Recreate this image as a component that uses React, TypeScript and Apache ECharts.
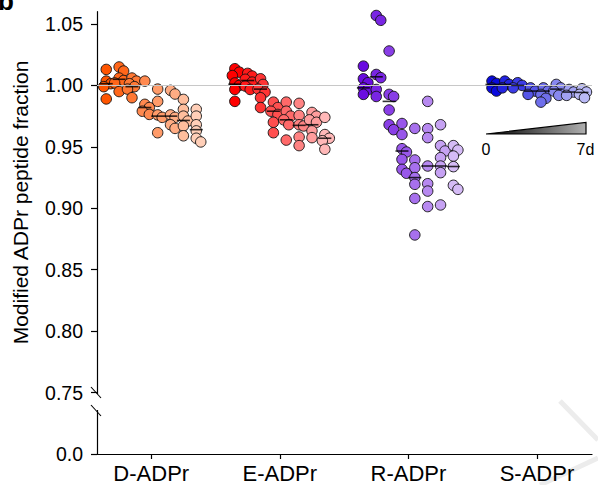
import React, { useEffect, useRef } from 'react';
import * as echarts from 'echarts';

// ---------- data ----------
const categories = ['D-ADPr', 'E-ADPr', 'R-ADPr', 'S-ADPr'];
const yTicks = [0.7, 0.75, 0.8, 0.85, 0.9, 0.95, 1.0, 1.05];
const yTickLabels = ['0.0', '0.75', '0.80', '0.85', '0.90', '0.95', '1.00', '1.05'];
const timeStartLabel = '0';
const timeEndLabel = '7d';
const yTitle = 'Modified ADPr peptide fraction';

// 8 time points (0 .. 7 d) per modification type
const dADPr = [
  [1.013, 1.0035, 1.0014, 0.999, 0.989],
  [1.015, 1.0117, 1.006, 1.004, 1.002, 0.995],
  [1.006, 1.0035, 1.0014, 0.999, 0.997, 0.99],
  [1.0035, 0.9846, 0.982, 0.979, 0.9764],
  [0.997, 0.987, 0.976, 0.974, 0.9615],
  [0.996, 0.993, 0.976, 0.974, 0.968, 0.965],
  [0.9886, 0.9805, 0.975, 0.971, 0.967, 0.959],
  [0.9805, 0.975, 0.968, 0.963, 0.957, 0.954],
];
const eADPr = [
  [1.0136, 1.0108, 1.008, 1.002, 1.0, 0.9967, 0.987],
  [1.0098, 1.0076, 1.005, 1.0027, 0.9995, 0.9967],
  [1.0054, 1.0008, 0.997, 0.9946, 0.99, 0.982],
  [0.9864, 0.982, 0.979, 0.9764, 0.97, 0.9615],
  [0.9864, 0.979, 0.975, 0.972, 0.968, 0.9555],
  [0.9854, 0.9756, 0.968, 0.967, 0.958, 0.951],
  [0.978, 0.975, 0.972, 0.97, 0.963, 0.9575],
  [0.974, 0.96, 0.957, 0.955, 0.948],
];
const rADPr = [
  [1.0157, 1.0054, 1.0022, 0.998, 0.9965, 0.9927],
  [1.0569, 1.053, 1.0089, 1.0063, 0.9967, 0.991],
  [1.028, 0.9927, 0.991, 0.98, 0.968, 0.964],
  [0.969, 0.96, 0.9485, 0.9458, 0.9398, 0.9317, 0.9285],
  [0.965, 0.9393, 0.933, 0.925, 0.9195, 0.908, 0.8783],
  [0.987, 0.9648, 0.9575, 0.9344, 0.92, 0.914, 0.9014],
  [0.968, 0.951, 0.9466, 0.9412, 0.9344, 0.929, 0.9027],
  [0.951, 0.9474, 0.9425, 0.9339, 0.9187, 0.9154],
];
const sADPr = [
  [1.0035, 1.0016, 0.998, 0.9954],
  [1.0035, 1.0008, 0.998],
  [1.0022, 1.0, 0.998],
  [0.998, 0.9954, 0.9927],
  [0.998, 0.9954, 0.9927, 0.9895, 0.9864],
  [1.0008, 0.998, 0.9954, 0.9919],
  [0.9967, 0.9946, 0.9919],
  [0.9973, 0.9946, 0.9927, 0.99],
];
const dMedians = [1.0014, 1.005, 0.999, 0.982, 0.975, 0.975, 0.9715, 0.964];
const eMedians = [1.001, 1.004, 0.997, 0.979, 0.972, 0.9675, 0.968, 0.957];
const rMedians = [0.998, 1.007, 0.987, 0.9466, 0.925, 0.9344, 0.9344, 0.934];
const sMedians = [1.0008, 1.0008, 1.0, 0.9954, 0.9954, 0.997, 0.9946, 0.9943];

const groups = [dADPr, eADPr, rADPr, sADPr];
const medians = [dMedians, eMedians, rMedians, sMedians];

// ---------- styles ----------
const baseColors = [
  [255, 85, 0],
  [255, 0, 0],
  [106, 12, 224],
  [10, 10, 222],
];
const FONT = '"Liberation Sans", Arial, Helvetica, sans-serif';
const X_MIN = 0.578;
const X_MAX = 4.428;
const Y_MIN = 0.7;
const Y_MAX = 1.06;
const GRID = { left: 97, right: 6, top: 11.7, bottom: 31 };
const W = 598;
const H = 485;
const COL_STEP = 0.1;

function mix(rgb: number[], t: number) {
  const c = rgb.map((v) => Math.round(v + (255 - v) * t));
  return `rgb(${c[0]},${c[1]},${c[2]})`;
}

function buildOption() {
  const plotW = W - GRID.left - GRID.right;
  const plotH = H - GRID.top - GRID.bottom;
  const pxPerX = plotW / (X_MAX - X_MIN);
  const pxPerY = plotH / (Y_MAX - Y_MIN);

  const dotSeries: any[] = [];
  const medianData: any[] = [];
  groups.forEach((cols, g) => {
    const data: any[] = [];
    cols.forEach((vals, c) => {
      const color = mix(baseColors[g], (c / 7) * 0.72);
      const cx = g + 1 + (c - 3.5) * COL_STEP;
      const placed: { dx: number; y: number }[] = [];
      const sorted = [...vals].sort((a, b) => b - a);
      sorted.forEach((v) => {
        const py = v * pxPerY;
        const cands = [0, 2.5, -2.5, 4.5, -4.5];
        let best = 0;
        let bestD = -1;
        for (const dx of cands) {
          let minD = Infinity;
          for (const p of placed) {
            const d = Math.hypot(dx - p.dx, py - p.y);
            if (d < minD) minD = d;
          }
          if (minD >= 6) {
            best = dx;
            bestD = Infinity;
            break;
          }
          if (minD > bestD) {
            bestD = minD;
            best = dx;
          }
        }
        placed.push({ dx: best, y: py });
        data.push({ value: [cx + best / pxPerX, v], itemStyle: { color } });
      });
      medianData.push([cx, medians[g][c]]);
    });
    dotSeries.push({
      type: 'scatter',
      name: categories[g],
      data,
      symbol: 'circle',
      symbolSize: 10.5,
      itemStyle: { borderColor: '#111', borderWidth: 0.9, opacity: 1 },
      z: 3,
      silent: true,
    });
  });

  const axisLineY = GRID.left;
  return {
    animation: false,
    textStyle: { fontFamily: FONT },
    grid: { ...GRID, containLabel: false },
    xAxis: {
      type: 'value',
      min: X_MIN,
      max: X_MAX,
      splitLine: { show: false },
      axisLine: { show: true, onZero: false, lineStyle: { color: '#000', width: 1.2 } },
      axisTick: { show: true, customValues: [1, 2, 3, 4], length: 5, lineStyle: { color: '#000', width: 1.2 } },
      axisLabel: {
        customValues: [1, 2, 3, 4],
        formatter: (v: number) => categories[Math.round(v) - 1] ?? '',
        fontSize: 22,
        color: '#000',
        margin: 8,
        fontFamily: FONT,
      },
    },
    yAxis: {
      type: 'value',
      min: Y_MIN,
      max: Y_MAX,
      splitLine: { show: false },
      axisLine: { show: true, onZero: false, lineStyle: { color: '#000', width: 1.2 } },
      axisTick: { show: true, customValues: yTicks, length: 6, lineStyle: { color: '#000', width: 1.2 } },
      axisLabel: {
        customValues: yTicks,
        formatter: (v: number) => {
          const i = yTicks.findIndex((t) => Math.abs(t - v) < 1e-6);
          return i >= 0 ? yTickLabels[i] : '';
        },
        fontSize: 19.5,
        color: '#000',
        margin: 14,
        fontFamily: FONT,
      },
    },
    series: [
      {
        type: 'line',
        data: [],
        silent: true,
        z: 1,
        markLine: {
          silent: true,
          symbol: 'none',
          label: { show: false },
          lineStyle: { color: '#c8c8c8', width: 1.2, type: 'solid' },
          data: [{ yAxis: 1.0 }],
        },
      },
      ...dotSeries,
      {
        type: 'scatter',
        data: medianData,
        symbol: 'rect',
        symbolSize: [13, 1.6],
        itemStyle: { color: '#000' },
        z: 5,
        silent: true,
      },
    ],
    graphic: [
      // panel letter (cut off at top)
      {
        type: 'text',
        left: undefined,
        x: -2,
        y: 1,
        style: { text: 'b', font: `bold 26px ${FONT}`, fill: '#000', verticalAlign: 'middle', align: 'left' },
      },
      // y-axis title
      {
        type: 'text',
        x: 20,
        y: 202.5,
        rotation: Math.PI / 2,
        style: { text: yTitle, font: `21px ${FONT}`, fill: '#000', align: 'center', verticalAlign: 'middle' },
      },
      // axis break
      { type: 'rect', shape: { x: axisLineY - 3, y: 394, width: 6, height: 16 }, style: { fill: '#fff' }, z: 100 },
      { type: 'line', shape: { x1: 91, y1: 387, x2: 101, y2: 398 }, style: { stroke: '#000', lineWidth: 1.1 }, z: 101 },
      { type: 'line', shape: { x1: 91, y1: 405, x2: 101, y2: 416 }, style: { stroke: '#000', lineWidth: 1.1 }, z: 101 },
      // time wedge inset
      {
        type: 'polygon',
        shape: { points: [[486, 134], [586, 122.5], [586, 134]] },
        style: {
          fill: new echarts.graphic.LinearGradient(0, 0, 1, 0, [
            { offset: 0, color: '#000' },
            { offset: 1, color: '#b0b0b0' },
          ]),
          stroke: '#000',
          lineWidth: 1.2,
        },
        z: 50,
      },
      {
        type: 'text',
        x: 486,
        y: 149,
        style: { text: timeStartLabel, font: `16px ${FONT}`, fill: '#000', align: 'center', verticalAlign: 'middle' },
      },
      {
        type: 'text',
        x: 585.5,
        y: 149,
        style: { text: timeEndLabel, font: `16px ${FONT}`, fill: '#000', align: 'center', verticalAlign: 'middle' },
      },
      // faint watermark strokes
      { type: 'line', shape: { x1: 560, y1: 401, x2: 598, y2: 440 }, style: { stroke: '#ececec', lineWidth: 5 }, z: 0 },
      { type: 'line', shape: { x1: 598, y1: 458, x2: 540, y2: 485 }, style: { stroke: '#ececec', lineWidth: 5 }, z: 0 },
    ],
  };
}

export default function App() {
  const ref = useRef<HTMLDivElement>(null);
  useEffect(() => {
    if (!ref.current) return;
    const chart = echarts.init(ref.current, null, { renderer: 'svg' });
    chart.setOption(buildOption() as any);
    return () => chart.dispose();
  }, []);
  return <div ref={ref} style={{ width: W, height: H, position: 'absolute', left: 0, top: 0, background: '#fff' }} />;
}
